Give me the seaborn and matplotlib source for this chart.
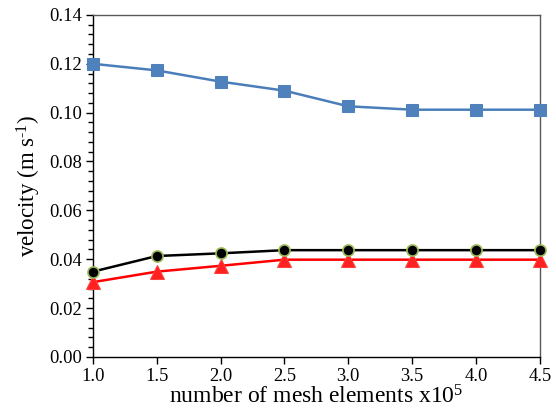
import numpy as np
import pandas as pd
import matplotlib
matplotlib.use("Agg")
import matplotlib.pyplot as plt
import seaborn as sns
from matplotlib.ticker import MultipleLocator, FormatStrFormatter

mesh = [1.0, 1.5, 2.0, 2.5, 3.0, 3.5, 4.0, 4.5]
blue_vals = [0.120, 0.1173, 0.1127, 0.1090, 0.1026, 0.1012, 0.1012, 0.1012]
black_vals = [0.0349, 0.0413, 0.0424, 0.0437, 0.0437, 0.0437, 0.0437, 0.0437]
red_vals = [0.0306, 0.0349, 0.0373, 0.0398, 0.0398, 0.0398, 0.0398, 0.0398]

sns.set_theme(style="white")
plt.rcParams['font.family'] = ['Liberation Serif', 'DejaVu Serif']
plt.rcParams['mathtext.fontset'] = 'custom'
plt.rcParams['mathtext.rm'] = 'Liberation Serif'
plt.rcParams['mathtext.it'] = 'Liberation Serif'

fig = plt.figure(figsize=(5.56, 4.15), dpi=100)
ax = fig.add_axes([0.167, 0.140, 0.804, 0.824])

df = pd.DataFrame({"x": mesh, "blue": blue_vals, "black": black_vals, "red": red_vals})

sns.lineplot(data=df, x="x", y="blue", ax=ax, color="#4A7EBB", lw=1.8,
             marker="s", markersize=9, markerfacecolor="#4F81BD",
             markeredgecolor="#4F81BD", clip_on=False, zorder=3)
sns.lineplot(data=df, x="x", y="red", ax=ax, color="#FF0000", lw=1.8,
             marker="^", markersize=10, markerfacecolor="#FF2020",
             markeredgecolor="#FF4040", clip_on=False, zorder=3)
sns.lineplot(data=df, x="x", y="black", ax=ax, color="#000000", lw=1.8,
             marker="o", markersize=8, markerfacecolor="#000000",
             markeredgecolor="#9BBB59", markeredgewidth=1.2, clip_on=False, zorder=4)

ax.set_xlim(1.0, 4.5)
ax.set_ylim(0.0, 0.14)
ax.xaxis.set_major_locator(MultipleLocator(0.5))
ax.xaxis.set_major_formatter(FormatStrFormatter('%.1f'))
ax.yaxis.set_major_locator(MultipleLocator(0.02))
ax.yaxis.set_minor_locator(MultipleLocator(0.004))
ax.yaxis.set_major_formatter(FormatStrFormatter('%.2f'))

for s in ax.spines.values():
    s.set_color("black")
    s.set_linewidth(1.0)
for s in ["top", "right"]:
    ax.spines[s].set_color("#595959")

ax.tick_params(axis="both", which="major", direction="out", length=5, width=1,
               color="black", labelsize=13.3, labelcolor="black", pad=3,
               bottom=True, left=True)
ax.tick_params(axis="y", which="minor", direction="out", length=3.5, width=1,
               color="black", left=True)

ax.set_xlabel(r"number of mesh elements x10$^{5}$", fontsize=17, color="black", labelpad=0)
ax.set_ylabel(r"velocity (m s$^{\text{-1}}$)", fontsize=16.5, color="black", labelpad=4)

fig.savefig("out.png", dpi=100)
